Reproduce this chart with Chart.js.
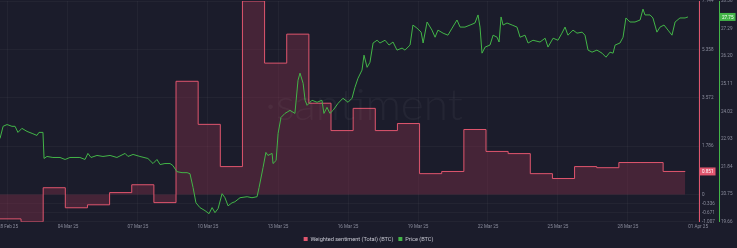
<!DOCTYPE html>
<html lang="en">
<head>
    <meta charset="UTF-8">
    <title>Weighted sentiment vs Price (BTC)</title>
    <script src="https://cdn.jsdelivr.net/npm/chart.js"></script>
    <style>
        html, body {
            margin: 0;
            padding: 0;
            background-color: #1b1c2b;
        }
        .chart-container {
            position: relative;
            width: 737px;
            height: 248px;
        }
    </style>
</head>
<body>
    <div class="chart-container">
        <canvas id="sentimentChart"></canvas>
    </div>

    <script>
        // Data (x = days from start of range)
        const sentimentValues = [-0.90, -1.007, 0.25, -0.49, -0.38, 0.07, 0.36, -0.30, 4.18, 2.59, 1.03,
            7.144, 4.85, 5.92, 3.37, 2.36, 3.18, 2.36, 2.62, 0.77, 0.85, 2.40, 1.59, 1.51, 0.77, 0.59,
            1.03, 0.99, 1.18, 1.18, 0.851];

        const priceTimes = [0.05, 0.19, 0.37, 0.59, 0.73, 0.86, 1.04, 1.27, 1.50, 1.72, 1.81, 1.99,
            2.04, 2.17, 2.44, 2.76, 2.99, 3.21, 3.66, 3.89, 4.02, 4.16, 4.43, 4.70, 5.02, 5.33, 5.70,
            5.83, 6.06, 6.37, 6.73, 6.96, 7.14, 7.28, 7.50, 7.73, 7.86, 8.04, 8.27, 8.50, 8.63, 8.77,
            8.90, 9.08, 9.31, 9.49, 9.63, 9.76, 9.90, 10.08, 10.21, 10.35, 10.53, 10.66, 10.89, 11.21,
            11.43, 11.66, 11.75, 11.93, 12.06, 12.15, 12.34, 12.38, 12.52, 12.61, 12.74, 12.92, 13.15,
            13.37, 13.51, 13.60, 13.74, 13.83, 13.92, 14.14, 14.37, 14.59, 14.68, 14.82, 14.95, 15.09,
            15.32, 15.54, 15.77, 15.95, 16.08, 16.22, 16.40, 16.49, 16.63, 16.76, 16.90, 17.08, 17.21,
            17.44, 17.62, 17.80, 17.98, 18.21, 18.34, 18.57, 18.70, 18.88, 19.07, 19.16, 19.34, 19.56,
            19.70, 19.83, 20.06, 20.28, 20.47, 20.69, 20.83, 21.05, 21.28, 21.50, 21.64, 21.73, 21.82,
            21.96, 22.18, 22.32, 22.50, 22.59, 22.68, 22.77, 22.95, 23.18, 23.40, 23.54, 23.76, 23.90,
            24.12, 24.44, 24.67, 24.80, 25.03, 25.25, 25.43, 25.57, 25.70, 25.93, 26.11, 26.34, 26.47,
            26.61, 26.79, 27.01, 27.24, 27.42, 27.60, 27.74, 27.83, 28.05, 28.19, 28.32, 28.50, 28.73,
            28.96, 29.09, 29.18, 29.41, 29.54, 29.72, 29.86, 30.04, 30.22, 30.40, 30.54, 30.76, 30.99,
            31.12];

        const priceValues = [22.95, 23.43, 23.50, 23.43, 23.43, 23.19, 23.35, 23.23, 23.15, 23.07, 23.19, 23.19,
            22.16, 22.24, 22.20, 22.20, 22.12, 22.20, 22.20, 22.12, 22.36, 22.20, 22.28, 22.24, 22.28, 22.20, 22.36,
            22.24, 22.32, 22.24, 22.16, 21.96, 22.12, 21.92, 21.96, 21.96, 21.88, 21.64, 21.60, 21.60, 21.56, 21.01,
            20.41, 20.22, 20.10, 19.98, 20.22, 20.02, 20.18, 20.77, 20.61, 20.29, 20.41, 20.45, 20.61, 20.65,
            20.61, 20.65, 21.01, 21.80, 22.40, 22.28, 22.36, 21.96, 22.08, 23.15, 23.78, 23.94, 24.06,
            23.94, 25.25, 25.53, 25.13, 24.46, 24.26, 24.46, 24.38, 24.46, 23.94, 24.18, 23.94, 24.06,
            24.34, 24.54, 24.38, 24.54, 24.97, 25.33, 25.65, 26.24, 25.76, 25.96, 26.72, 26.83, 26.72,
            26.83, 26.64, 26.76, 26.44, 26.52, 26.44, 26.64, 27.43, 27.31, 27.15, 26.72, 27.55, 27.23,
            26.95, 27.23, 27.11, 27.03, 27.31, 27.63, 27.35, 27.35, 27.43, 27.51, 27.83, 27.35, 26.32,
            26.56, 26.64, 27.03, 26.95, 26.76, 27.75, 27.43, 27.51, 27.43, 27.35, 26.95, 27.03, 26.72,
            26.83, 26.76, 26.91, 26.56, 26.91, 26.83, 27.11, 27.35, 27.03, 27.23, 27.11, 27.15, 27.03,
            26.44, 26.36, 26.44, 26.32, 26.16, 26.36, 26.32, 26.64, 26.72, 26.95, 27.71, 27.55, 27.55,
            27.63, 28.06, 27.83, 27.83, 27.71, 27.15, 27.35, 27.43, 27.23, 27.03, 27.55, 27.71, 27.71,
            27.75];

        const dateTicks = [0.41, 3.12, 6.28, 9.44, 12.61, 15.77, 18.93, 22.09, 25.25, 28.41, 31.58];
        const dateLabels = ['28 Feb 25', '04 Mar 25', '07 Mar 25', '10 Mar 25', '13 Mar 25', '16 Mar 25',
            '19 Mar 25', '22 Mar 25', '25 Mar 25', '28 Mar 25', '01 Apr 25'];
        const sentimentTicks = [7.144, 5.358, 3.572, 1.786, 0, -0.336, -0.671, -1.007];
        const priceTicks = [19.66, 20.75, 21.84, 22.93, 24.02, 25.11, 26.20, 27.29, 28.38];

        const pink = '#e0566e';
        const green = '#43b548';
        const tickColor = '#8c8e9e';
        const tickFont = { family: 'Roboto', size: 4.6 };

        const sentimentData = sentimentValues.map((v, i) => ({ x: i, y: v }));
        // closing point so the last step has its width
        sentimentData.push({ x: sentimentValues.length, y: sentimentValues[sentimentValues.length - 1] });
        const priceData = priceTimes.map((t, i) => ({ x: t, y: priceValues[i] }));

        const noPad = (scale) => {
            scale.paddingTop = 0;
            scale.paddingBottom = 0;
        };

        // watermark + last value badges
        const extras = {
            id: 'extras',
            afterDatasetsDraw(chart) {
                const { ctx } = chart;
                ctx.save();
                ctx.font = '300 44px Lato';
                ctx.fillStyle = 'rgba(255,255,255,0.045)';
                ctx.textAlign = 'center';
                ctx.textBaseline = 'alphabetic';
                ctx.fillText('·santiment', 364, 120);
                ctx.restore();
            },
            afterDraw(chart) {
                const { ctx } = chart;
                const badge = (scale, value, text, color) => {
                    const y = scale.getPixelForValue(value);
                    ctx.save();
                    ctx.font = '4.6px Roboto';
                    const w = ctx.measureText(text).width + 4;
                    ctx.fillStyle = color;
                    ctx.fillRect(scale.left + 1, y - 4, w, 8);
                    ctx.fillStyle = '#ffffff';
                    ctx.textBaseline = 'middle';
                    ctx.fillText(text, scale.left + 3, y + 0.5);
                    ctx.restore();
                };
                const lastS = sentimentValues[sentimentValues.length - 1];
                const lastP = priceValues[priceValues.length - 1];
                badge(chart.scales.ySent, lastS, lastS.toFixed(3), pink);
                badge(chart.scales.yPrice, lastP, lastP.toFixed(2), green);
            }
        };

        const ctx = document.getElementById('sentimentChart').getContext('2d');
        const chart = new Chart(ctx, {
            type: 'line',
            data: {
                datasets: [
                    {
                        label: 'Price (BTC)',
                        data: priceData,
                        yAxisID: 'yPrice',
                        borderColor: green,
                        backgroundColor: green,
                        borderWidth: 1,
                        pointRadius: 0,
                        tension: 0,
                        fill: false
                    },
                    {
                        label: 'Weighted sentiment (Total) (BTC)',
                        data: sentimentData,
                        yAxisID: 'ySent',
                        stepped: true,
                        borderColor: pink,
                        backgroundColor: 'rgba(150, 52, 76, 0.35)',
                        borderWidth: 1,
                        pointRadius: 0,
                        fill: 'origin'
                    }
                ]
            },
            options: {
                responsive: true,
                maintainAspectRatio: false,
                animation: false,
                parsing: false,
                layout: { padding: { top: 1, left: 0, right: 0, bottom: 0 } },
                scales: {
                    x: {
                        type: 'linear',
                        min: 0.05,
                        max: 31.62,
                        grid: { color: 'rgba(255,255,255,0.035)', drawTicks: false },
                        border: { display: false },
                        afterBuildTicks: (scale) => {
                            scale.ticks = dateTicks.map(v => ({ value: v }));
                        },
                        afterFit: (scale) => {
                            scale.paddingLeft = 0;
                            scale.paddingRight = 0;
                        },
                        ticks: {
                            color: tickColor,
                            font: tickFont,
                            padding: 2,
                            maxRotation: 0,
                            autoSkip: false,
                            callback: (value, index) => dateLabels[index]
                        }
                    },
                    ySent: {
                        type: 'linear',
                        position: 'right',
                        min: -1.007,
                        max: 7.144,
                        grid: { color: 'rgba(255,255,255,0.035)', drawTicks: false },
                        border: { color: pink, width: 1 },
                        afterBuildTicks: (scale) => {
                            scale.ticks = sentimentTicks.map(v => ({ value: v }));
                        },
                        afterFit: (scale) => { scale.width = 20; noPad(scale); },
                        ticks: {
                            color: tickColor,
                            font: tickFont,
                            padding: 3,
                            callback: (value) => value === 0 ? '0' : value.toFixed(3)
                        }
                    },
                    yPrice: {
                        type: 'linear',
                        position: 'right',
                        min: 19.66,
                        max: 28.38,
                        grid: { display: false, drawTicks: false },
                        border: { color: green, width: 1 },
                        afterBuildTicks: (scale) => {
                            scale.ticks = priceTicks.map(v => ({ value: v }));
                        },
                        afterFit: (scale) => { scale.width = 18; noPad(scale); },
                        ticks: {
                            color: tickColor,
                            font: tickFont,
                            padding: 2,
                            callback: (value) => value.toFixed(2)
                        }
                    }
                },
                plugins: {
                    legend: {
                        position: 'bottom',
                        reverse: true,
                        maxHeight: 16.7,
                        labels: {
                            color: '#c6c7d1',
                            font: { family: 'Roboto', size: 5.6 },
                            boxWidth: 4,
                            boxHeight: 4,
                            padding: 5,
                            generateLabels: (c) => Chart.defaults.plugins.legend.labels.generateLabels(c)
                                .map(l => Object.assign(l, { fillStyle: l.strokeStyle, lineWidth: 0 }))
                        }
                    },
                    tooltip: { enabled: false }
                }
            },
            plugins: [extras]
        });
    </script>
</body>
</html>
